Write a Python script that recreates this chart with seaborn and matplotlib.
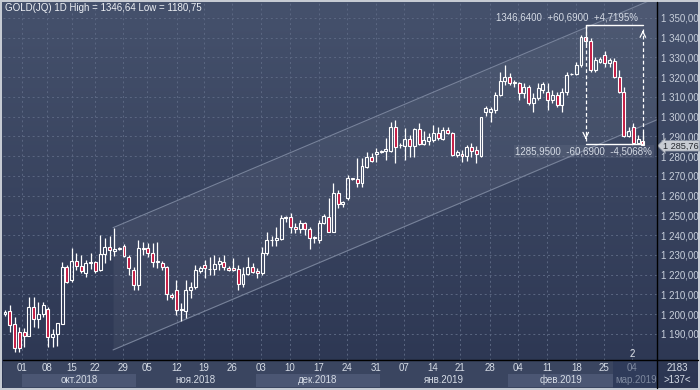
import matplotlib
matplotlib.use("Agg")
import matplotlib.pyplot as plt
import matplotlib.transforms as mtransforms
from matplotlib.colors import LinearSegmentedColormap
from matplotlib.lines import Line2D
import numpy as np
import pandas as pd
import seaborn as sns

# daily OHLC (oldest first)
opens = [1200.0, 1201.8, 1195.1, 1191.2, 1191.2, 1189.2, 1203.5, 1197.4, 1200.0, 1202.5,
         1188.3, 1190.0, 1195.0, 1224.1, 1217.3, 1227.1, 1224.6, 1220.7, 1225.8, 1226.6,
         1222.4, 1230.4, 1233.9, 1232.2, 1233.0, 1234.7, 1229.1, 1222.4, 1214.8, 1233.2,
         1233.4, 1230.9, 1226.8, 1226.1, 1223.8, 1209.7, 1212.3, 1202.0, 1201.8, 1212.0,
         1213.6, 1222.0, 1225.0, 1222.7, 1222.9, 1225.4, 1226.6, 1223.6, 1223.6, 1222.7,
         1215.1, 1220.2, 1224.1, 1221.9, 1220.7, 1230.9, 1237.4, 1237.6, 1238.0, 1248.8,
         1249.1, 1244.1, 1243.0, 1246.0, 1243.2, 1238.8, 1237.6, 1246.4, 1249.1, 1241.8,
         1261.2, 1255.7, 1258.7, 1268.4, 1268.3, 1266.3, 1274.7, 1279.8, 1281.0, 1282.3,
         1282.5, 1282.8, 1294.7, 1285.5, 1285.2, 1288.6, 1285.2, 1293.6, 1286.2, 1287.7,
         1288.2, 1292.0, 1288.7, 1293.3, 1291.6, 1280.6, 1281.1, 1280.3, 1284.5, 1283.2,
         1280.1, 1302.6, 1302.6, 1303.4, 1311.0, 1318.3, 1320.0, 1317.1, 1317.0, 1311.9,
         1315.2, 1306.8, 1309.3, 1313.5, 1312.7, 1308.5, 1311.0, 1305.9, 1312.7, 1321.4,
         1321.6, 1326.2, 1340.2, 1338.5, 1323.7, 1327.9, 1331.3, 1327.1, 1328.4, 1320.3,
         1312.7, 1290.3, 1294.7, 1286.6, 1287.9]
highs = [1202.0, 1204.7, 1198.8, 1193.7, 1192.9, 1208.6, 1208.6, 1206.4, 1206.4, 1203.5,
         1192.4, 1195.6, 1226.3, 1225.0, 1233.4, 1230.9, 1230.0, 1227.5, 1230.9, 1227.0,
         1240.1, 1238.5, 1239.6, 1243.5, 1234.0, 1235.4, 1230.0, 1224.0, 1237.6, 1236.8,
         1236.3, 1236.0, 1236.8, 1227.1, 1224.5, 1210.7, 1217.3, 1205.5, 1217.3, 1216.5,
         1225.0, 1224.4, 1227.5, 1229.1, 1230.0, 1229.1, 1230.0, 1224.3, 1228.3, 1225.0,
         1224.1, 1229.1, 1225.8, 1223.3, 1234.2, 1241.8, 1239.6, 1244.3, 1250.3, 1249.5,
         1251.1, 1246.0, 1247.7, 1246.9, 1244.3, 1239.6, 1247.7, 1250.8, 1258.7, 1266.6,
         1262.9, 1257.5, 1270.5, 1269.2, 1279.0, 1279.0, 1282.3, 1281.5, 1284.0, 1283.3,
         1289.1, 1297.5, 1298.4, 1286.6, 1294.1, 1290.8, 1294.1, 1296.7, 1292.9, 1291.6,
         1295.8, 1295.0, 1295.0, 1295.0, 1292.4, 1283.2, 1283.2, 1285.7, 1286.6, 1285.2,
         1300.0, 1305.4, 1305.1, 1312.7, 1322.8, 1326.2, 1322.0, 1318.8, 1317.8, 1317.0,
         1316.1, 1311.9, 1317.0, 1317.8, 1317.0, 1313.5, 1312.7, 1314.4, 1322.8, 1322.2,
         1327.9, 1341.4, 1346.64, 1339.7, 1330.4, 1330.0, 1333.4, 1329.5, 1329.6, 1323.7,
         1315.2, 1295.0, 1296.7, 1290.8, 1292.4]
lows = [1199.0, 1191.2, 1180.75, 1181.0, 1183.6, 1189.0, 1193.7, 1192.9, 1198.8, 1183.3,
        1183.6, 1184.0, 1195.0, 1215.7, 1216.5, 1222.4, 1220.7, 1218.7, 1222.9, 1220.7,
        1222.0, 1225.8, 1227.5, 1229.7, 1232.5, 1229.1, 1219.9, 1212.3, 1212.3, 1230.0,
        1229.1, 1223.8, 1223.3, 1222.4, 1207.2, 1207.6, 1199.6, 1196.6, 1197.9, 1208.1,
        1213.0, 1220.7, 1218.2, 1219.9, 1219.9, 1222.4, 1222.4, 1221.8, 1221.7, 1212.3,
        1214.0, 1220.0, 1220.7, 1218.2, 1220.0, 1230.0, 1234.6, 1234.6, 1237.5, 1246.9,
        1241.3, 1241.3, 1241.0, 1240.1, 1232.9, 1236.3, 1235.9, 1245.7, 1241.8, 1241.8,
        1253.6, 1254.2, 1258.0, 1268.0, 1264.3, 1264.3, 1273.9, 1276.9, 1277.2, 1281.8,
        1278.1, 1282.0, 1276.4, 1284.3, 1278.1, 1279.4, 1279.8, 1285.5, 1285.7, 1285.7,
        1287.4, 1288.2, 1288.2, 1291.0, 1280.1, 1279.8, 1277.2, 1277.6, 1279.5, 1276.7,
        1279.8, 1300.4, 1297.5, 1301.7, 1310.5, 1316.1, 1316.1, 1315.0, 1308.5, 1309.3,
        1305.9, 1302.6, 1308.5, 1311.9, 1303.4, 1306.8, 1305.1, 1302.6, 1311.0, 1321.0,
        1321.1, 1325.3, 1336.5, 1322.8, 1322.8, 1327.0, 1325.3, 1325.3, 1319.5, 1311.9,
        1289.9, 1289.9, 1286.2, 1286.0, 1285.7]
closes = [1201.0, 1194.6, 1183.1, 1183.1, 1189.2, 1203.5, 1197.4, 1200.0, 1204.5, 1188.3,
          1190.0, 1195.4, 1224.1, 1216.5, 1227.1, 1224.6, 1222.0, 1225.8, 1226.6, 1222.0,
          1230.4, 1233.9, 1232.5, 1233.0, 1233.3, 1229.5, 1223.3, 1214.8, 1233.4, 1233.6,
          1230.9, 1226.6, 1226.4, 1223.8, 1210.3, 1208.6, 1202.2, 1202.4, 1212.3, 1213.6,
          1222.4, 1223.3, 1223.3, 1223.1, 1225.4, 1227.1, 1224.1, 1222.6, 1222.3, 1215.1,
          1220.2, 1224.1, 1221.5, 1221.0, 1230.9, 1237.6, 1237.8, 1238.5, 1248.6, 1249.3,
          1244.1, 1243.0, 1246.0, 1243.0, 1238.5, 1239.2, 1246.4, 1249.7, 1241.8, 1261.2,
          1255.7, 1256.7, 1269.2, 1268.8, 1266.6, 1275.1, 1279.8, 1277.7, 1282.2, 1282.7,
          1283.5, 1294.7, 1284.8, 1285.9, 1288.6, 1285.2, 1293.6, 1286.2, 1288.2, 1289.9,
          1292.0, 1289.1, 1293.3, 1291.6, 1280.6, 1282.3, 1280.3, 1284.5, 1282.8, 1281.1,
          1299.7, 1304.6, 1303.8, 1311.0, 1318.3, 1320.0, 1317.0, 1317.5, 1311.9, 1315.2,
          1306.8, 1309.7, 1314.4, 1316.6, 1308.5, 1311.0, 1305.9, 1312.7, 1321.1, 1321.8,
          1326.2, 1340.5, 1338.5, 1323.7, 1328.7, 1329.1, 1327.1, 1328.7, 1320.3, 1312.7,
          1290.3, 1292.8, 1286.6, 1288.6, 1285.76]

# date axis (positions are candle numbers)
day_labels = ["01", "08", "15", "22", "29", "05", "12", "19", "26", "03", "10", "17",
              "24", "31", "07", "14", "21", "28", "04", "11", "18", "25", "04"]
day_pos = [3.6, 8.8, 14.1, 18.9, 24.8, 29.8, 36.1, 41.8, 47.7, 53.8, 59.9, 66.0,
           71.8, 77.9, 83.8, 89.9, 95.6, 101.9, 107.8, 113.9, 120.0, 125.8, 131.7]
month_labels = ["окт.2018", "ноя.2018", "дек.2018", "янв.2019", "фев.2019", "мар.2019"]
month_edges = [3.6, 27.5, 52.7, 78.8, 105.7, 127.7, 137.0]

price_ticks = list(range(1190, 1351, 10))

# trend channel drawn on the chart
channel_x = [22.7, 137.0]
channel_upper = [1243.8, 1360.4]
channel_lower = [1181.9, 1298.5]

# measuring tool
measure_idx = [122, 134]
measure_hi = 1346.64
measure_lo = 1285.95
last_price = 1285.76

df = pd.DataFrame({"open": opens, "high": highs, "low": lows, "close": closes})
df["x"] = np.arange(len(df))
df["top"] = df[["open", "close"]].max(axis=1)
df["bot"] = df[["open", "close"]].min(axis=1)
df["up"] = df["close"] >= df["open"]

sns.set_style("dark", {"axes.facecolor": "none", "grid.color": "#5b6782"})
plt.rcParams["font.family"] = ["Liberation Sans", "DejaVu Sans"]

W, H = 700, 390
fig = plt.figure(figsize=(7, 3.9), dpi=100)
fig.patch.set_facecolor("#c6cbd3")

# gradient background
bg = fig.add_axes([2 / W, 2 / H, 696 / W, 386 / H], zorder=0)
grad = np.linspace(0, 1, 256).reshape(-1, 1)
cmap = LinearSegmentedColormap.from_list("bg", ["#45516c", "#2c3652"])
bg.imshow(grad, aspect="auto", cmap=cmap, extent=[0, 1, 0, 1])
bg.axis("off")

ax = fig.add_axes([3 / W, 30 / H, 654 / W, 358 / H], zorder=2)
ax.patch.set_alpha(0)
ax.set_xlim(-0.42, 136.97)
ax.set_ylim(1176.8, 1358.1)

ax.set_xticks(day_pos)
ax.set_yticks(price_ticks)
ax.grid(True, color="#5b6782", linestyle=(0, (2, 3)), linewidth=0.7)
ax.set_axisbelow(True)
ax.tick_params(axis="x", length=0, labelbottom=False)
ax.yaxis.tick_right()
ax.tick_params(axis="y", length=0, pad=3, labelsize=7, labelcolor="#c9d0dc")
ax.set_yticklabels([f"{v:,.2f}".replace(",", " ").replace(".", ",") for v in price_ticks])
for s in ax.spines.values():
    s.set_visible(False)

# channel
ax.fill_between(channel_x, channel_lower, channel_upper, color="white", alpha=0.05, lw=0)
sns.lineplot(x=channel_x, y=channel_upper, ax=ax, color="#77829a", lw=0.8)
sns.lineplot(x=channel_x, y=channel_lower, ax=ax, color="#77829a", lw=0.8)

# candles
ax.vlines(df["x"], df["top"], df["high"], color="white", lw=0.9, zorder=3)
ax.vlines(df["x"], df["low"], df["bot"], color="white", lw=0.9, zorder=3)
heights = np.maximum(df["top"] - df["bot"], 0.3)
faces = ["none" if u else "#c3163f" for u in df["up"]]
ax.bar(df["x"], heights, bottom=df["bot"], width=0.62, color=faces,
       edgecolor="white", linewidth=0.8, zorder=4)

# measuring tool
i0, i1 = measure_idx
ax.plot([i0, i1], [measure_hi, measure_hi], color="white", lw=1, zorder=5)
ax.plot([i0, i1], [measure_lo, measure_lo], color="white", lw=1, zorder=5)
ax.plot([i1, i1], [measure_hi - 2, measure_lo], color="white", lw=0.9, ls=(0, (3, 2)), zorder=5)
ax.plot([i0, i0], [measure_hi, measure_lo + 2], color="white", lw=0.9, ls=(0, (3, 2)), zorder=5)
ax.annotate("", xy=(i1, measure_hi - 1.5), xytext=(i1, measure_hi - 5),
            arrowprops=dict(arrowstyle="->", color="white", lw=0.9), zorder=5)
ax.annotate("", xy=(i0, measure_lo + 1.2), xytext=(i0, measure_lo + 5),
            arrowprops=dict(arrowstyle="->", color="white", lw=0.9), zorder=5)
diff = measure_hi - measure_lo
ax.text(118, 1350.5, f"{measure_hi:.4f}  +{diff:.4f}  +{diff / measure_lo * 100:.4f}%".replace(".", ","),
        ha="center", va="center", fontsize=7, color="#d4dae4", zorder=6)
ax.text(121.6, 1282.2, f"{measure_lo:.4f}  -{diff:.4f}  -{diff / measure_hi * 100:.4f}%".replace(".", ","),
        ha="center", va="center", fontsize=7, color="#d4dae4", zorder=6,
        bbox=dict(boxstyle="square,pad=0.15", fc="white", alpha=0.06, ec="none"))

# last price tag
tr = mtransforms.blended_transform_factory(ax.transAxes, ax.transData)
ax.text(1.009, last_price, f"{last_price:,.2f}".replace(",", " ").replace(".", ","),
        transform=tr, ha="left", va="center_baseline", fontsize=6.6, color="#25292f",
        clip_on=False, zorder=7,
        bbox=dict(boxstyle="larrow,pad=0.08", fc="#c8ccd3", ec="#8a92a2", lw=0.5))

ax.text(131.7, 1179.6, "2", ha="center", va="center", fontsize=7, color="#e0e4ea")

# date band
band = fig.add_axes([3 / W, 2 / H, 654 / W, 28 / H], zorder=1)
band.set_facecolor("#3a4560")
band.set_xlim(ax.get_xlim())
band.set_ylim(0, 1)
band.set_xticks([])
band.set_yticks([])
for s in band.spines.values():
    s.set_visible(False)
for k, name in enumerate(month_labels):
    a, b = month_edges[k], month_edges[k + 1]
    last = k == len(month_labels) - 1
    if last:
        band.axvspan(a, b, color="#2f3b5a", lw=0)
    elif k % 2 == 0:
        band.axvspan(a, b, ymin=0.04, ymax=0.5, color="#4b5673", lw=0)
    band.text((a + b) / 2 if not last else day_pos[-1] + 0.8, 0.28, name, ha="center",
              va="center", fontsize=7, color="#7d889e" if last else "#d6dce6", clip_on=True)
for k, (p, lab) in enumerate(zip(day_pos, day_labels)):
    band.text(p, 0.7, lab, ha="center", va="center", fontsize=7,
              color="#7d889e" if k == len(day_pos) - 1 else "#d6dce6")

# right bottom corner
fig.text(677 / W, 1 - 368 / H, "2183", ha="center", va="center", fontsize=7, color="#d6dce6")
fig.text(677 / W, 1 - 380 / H, ">137<", ha="center", va="center", fontsize=7, color="#d6dce6")

# separators
fig.add_artist(Line2D([657 / W, 657 / W], [2 / H, 388 / H], color="black", lw=1, zorder=8))
fig.add_artist(Line2D([3 / W, 698 / W], [30 / H, 30 / H], color="black", lw=1, zorder=8))

fig.text(5 / W, 1 - 8 / H, "GOLD(JQ) 1D High = 1346,64 Low = 1180,75", ha="left", va="center",
         fontsize=7, color="#eef1f5")

fig.savefig("out.png", dpi=100, facecolor=fig.get_facecolor())
